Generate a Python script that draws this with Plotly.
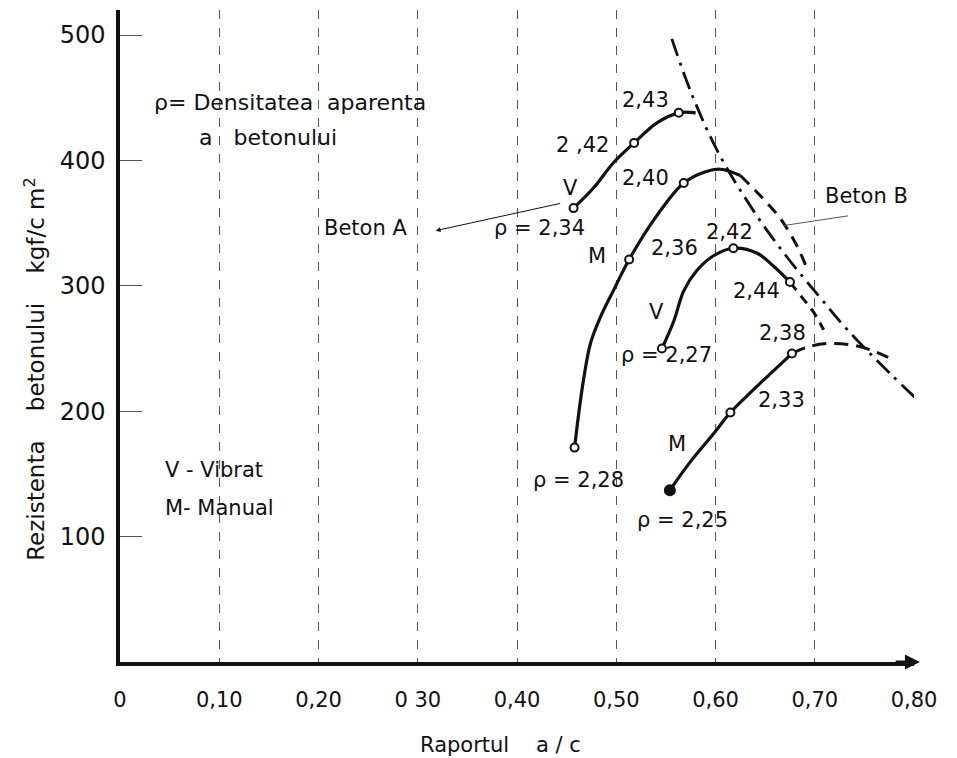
import plotly.graph_objects as go

# ---------------- data ----------------
# Beton A - vibrat (V)
av_x = [0.457, 0.477, 0.497, 0.518, 0.541, 0.563, 0.580]
av_y = [362, 378, 398, 414, 430, 438, 438]
av_mx = [0.457, 0.518, 0.563]
av_my = [362, 414, 438]

# Beton A - manual (M), solid part and dashed continuation
am_x = [0.458, 0.462, 0.467, 0.474, 0.484, 0.497, 0.513, 0.540, 0.568, 0.590, 0.605, 0.625]
am_y = [171, 197, 225, 254, 275, 296, 321, 355, 382, 391, 393, 388]
am_dx = [0.625, 0.645, 0.665, 0.682, 0.692]
am_dy = [388, 372, 354, 332, 314]
am_mx = [0.458, 0.513, 0.568]
am_my = [171, 321, 382]

# Beton B - vibrat (V)
bv_x = [0.546, 0.558, 0.568, 0.581, 0.598, 0.618, 0.642, 0.658, 0.675]
bv_y = [250, 272, 296, 312, 324, 330, 326, 316, 303]
bv_dx = [0.675, 0.688, 0.698, 0.709]
bv_dy = [303, 290, 280, 265]
bv_mx = [0.546, 0.618, 0.675]
bv_my = [250, 330, 303]

# Beton B - manual (M)
bm_x = [0.554, 0.575, 0.598, 0.615, 0.638, 0.677]
bm_y = [137, 160, 182, 199, 217, 246]
bm_dx = [0.677, 0.692, 0.713, 0.736, 0.756, 0.774]
bm_dy = [246, 251, 254, 253, 249, 243]
bm_mx = [0.615, 0.677]
bm_my = [199, 246]
bm_start = ([0.554], [137])

# dash-dot envelope line
env_x = [0.556, 0.576, 0.603, 0.639, 0.671, 0.704, 0.734, 0.776, 0.801]
env_y = [497, 453, 406, 359, 324, 292, 264, 230, 211]

x_ticks = [0, 0.10, 0.20, 0.30, 0.40, 0.50, 0.60, 0.70, 0.80]
x_tick_text = ["0", "0,10", "0,20", "0 30", "0,40", "0,50", "0,60", "0,70", "0,80"]
y_ticks = [100, 200, 300, 400, 500]
y_tick_text = ["100", "200", "300", "400", "500"]

# density labels: (text, x, y)
labels = [
    ("2,43", 0.529, 448), ("2 ,42", 0.466, 412), ("V", 0.454, 378),
    ("ρ = 2,34", 0.423, 346), ("2,40", 0.529, 386), ("M", 0.481, 324),
    ("2,36", 0.559, 330), ("2,42", 0.614, 343), ("2,44", 0.641, 296),
    ("V", 0.541, 279), ("ρ = 2,27", 0.551, 245), ("2,38", 0.667, 262),
    ("2,33", 0.666, 209), ("M", 0.561, 174), ("ρ = 2,28", 0.462, 145),
    ("ρ = 2,25", 0.567, 113), ("Beton B", 0.752, 372), ("Beton A", 0.247, 346),
]

FONT = "DejaVu Sans"
BLACK = "#111111"

fig = go.Figure()

def line(x, y, dash="solid", width=3.2):
    fig.add_trace(go.Scatter(x=x, y=y, mode="lines", line=dict(color=BLACK, width=width, dash=dash, shape="spline"),
                             hoverinfo="skip", showlegend=False))

def circles(x, y, filled=False, size=8):
    fig.add_trace(go.Scatter(x=x, y=y, mode="markers",
                             marker=dict(symbol="circle", size=size, color=BLACK if filled else "white",
                                         line=dict(color=BLACK, width=2)),
                             hoverinfo="skip", showlegend=False))

line(env_x, env_y, dash="18px,7px,3px,7px", width=2.8)
line(av_x, av_y)
line(am_x, am_y)
line(am_dx, am_dy, dash="12px,8px", width=3)
line(bv_x, bv_y)
line(bv_dx, bv_dy, dash="10px,7px", width=3)
line(bm_x, bm_y)
line(bm_dx, bm_dy, dash="14px,8px", width=3)

circles(av_mx, av_my)
circles(am_mx, am_my)
circles(bv_mx, bv_my)
circles(bm_mx, bm_my)
circles(*bm_start, filled=True, size=10)

ann = []
for t, x, y in labels:
    ann.append(dict(x=x, y=y, text=t, showarrow=False, font=dict(family=FONT, size=21, color=BLACK)))

# legend-like texts
ann.append(dict(x=0.032, y=446, text="ρ= Densitatea  aparenta", xanchor="left", showarrow=False,
                font=dict(family=FONT, size=22, color=BLACK)))
ann.append(dict(x=0.078, y=418, text="a   betonului", xanchor="left", showarrow=False,
                font=dict(family=FONT, size=22, color=BLACK)))
ann.append(dict(x=0.043, y=153, text="V - Vibrat", xanchor="left", showarrow=False,
                font=dict(family=FONT, size=21, color=BLACK)))
ann.append(dict(x=0.043, y=123, text="M- Manual", xanchor="left", showarrow=False,
                font=dict(family=FONT, size=21, color=BLACK)))

# leaders
ann.append(dict(x=0.318, y=344, ax=0.445, ay=366, axref="x", ayref="y", xref="x", yref="y", text="",
                showarrow=True, arrowhead=2, arrowsize=1, arrowwidth=1, arrowcolor=BLACK))
ann.append(dict(x=0.668, y=348, ax=0.735, ay=356, axref="x", ayref="y", xref="x", yref="y", text="",
                showarrow=True, arrowhead=0, arrowwidth=1, arrowcolor="#555555"))
# x axis arrow
ann.append(dict(x=0.806, y=0, ax=0.78, ay=0, axref="x", ayref="y", xref="x", yref="y", text="",
                showarrow=True, arrowhead=2, arrowsize=1, arrowwidth=3, arrowcolor=BLACK))

# axis titles
ann.append(dict(xref="paper", yref="paper", x=0.479, y=-0.127, yanchor="middle", text="Raportul    a / c",
                showarrow=False, font=dict(family=FONT, size=21, color=BLACK)))
ann.append(dict(xref="paper", yref="paper", x=-0.108, y=0.45, xanchor="center",
                text="Rezistenta    betonului    kgf/c m<sup>2</sup>",
                textangle=-90, showarrow=False, font=dict(family=FONT, size=23, color=BLACK)))

fig.update_layout(
    width=957, height=758,
    margin=dict(l=112, r=51, t=2, b=104),
    paper_bgcolor="white", plot_bgcolor="white",
    annotations=ann,
    xaxis=dict(range=[0, 0.80], tickvals=x_ticks, ticktext=x_tick_text, showline=True, linecolor=BLACK,
               linewidth=3.5, showgrid=True, gridcolor="#555555", gridwidth=1, griddash="dash",
               zeroline=False, ticks="", ticklabelstandoff=16,
               tickfont=dict(family=FONT, size=21, color=BLACK)),
    yaxis=dict(range=[0, 520], tickvals=y_ticks, ticktext=y_tick_text, showline=True, linecolor=BLACK,
               linewidth=3.5, showgrid=False, zeroline=False, ticks="inside", ticklen=22, tickwidth=1,
               tickcolor="#555555", ticklabelstandoff=6,
               tickfont=dict(family=FONT, size=24, color=BLACK)),
)

fig.write_html("out.html")
